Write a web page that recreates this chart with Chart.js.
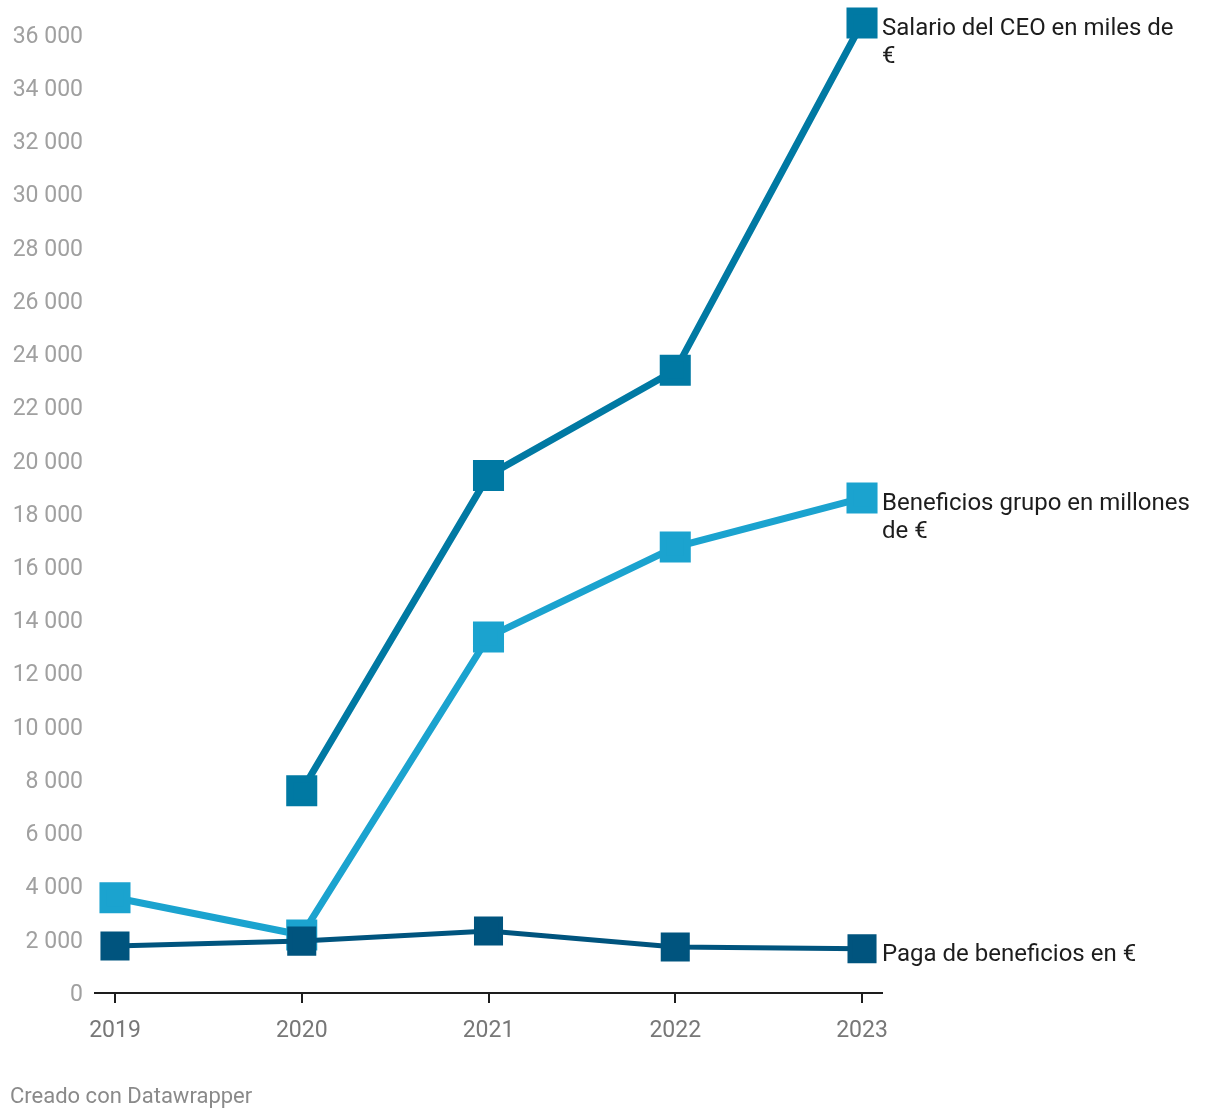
<!DOCTYPE html>
<html>
<head>
<meta charset="utf-8">
<script src="https://cdn.jsdelivr.net/npm/chart.js@4"></script>
<style>
  body { margin: 0; background: #fff; }
  #wrap { position: relative; width: 1220px; height: 1120px; }
  #credit { position: absolute; left: 10px; top: 1083px; font: 22px Roboto, sans-serif; color: #8a8a8a; }
</style>
</head>
<body>
<div id="wrap">
  <canvas id="chart"></canvas>
  <div id="credit">Creado con Datawrapper</div>
</div>
<script>
let years = [2019, 2020, 2021, 2022, 2023];
let ceoSalary = [null, 7600, 19450, 23400, 36450];
let groupProfit = [3580, 2180, 13380, 16760, 18600];
let profitPay = [1770, 1950, 2330, 1730, 1660];
let yTicks = [0, 2000, 4000, 6000, 8000, 10000, 12000, 14000, 16000, 18000, 20000, 22000, 24000, 26000, 28000, 30000, 32000, 34000, 36000];

let seriesNames = [
  ['Salario del CEO en miles de', '€'],
  ['Beneficios grupo en millones', 'de €'],
  ['Paga de beneficios en €']
];

let fmt = v => String(v).replace(/\B(?=(\d{3})+(?!\d))/g, ' ');

// end-of-line labels next to the last point
let endLabels = {
  id: 'endLabels',
  afterDatasetsDraw(chart) {
    let ctx = chart.ctx;
    ctx.save();
    ctx.font = '24px Roboto';
    ctx.fillStyle = '#1d1d1d';
    ctx.textBaseline = 'middle';
    chart.data.datasets.forEach((ds, i) => {
      let meta = chart.getDatasetMeta(i);
      let pt = meta.data[meta.data.length - 1];
      ds.endLabel.forEach((line, j) => {
        ctx.fillText(line, pt.x + 20, pt.y + 6 + j * 28);
      });
    });
    ctx.restore();
  }
};

let donationChart = document.getElementById('chart');

let myChart = new Chart(donationChart, {
  type: 'line',
  data: {
    labels: years,
    datasets: [
      {
        label: 'Salario del CEO',
        data: ceoSalary,
        endLabel: seriesNames[0],
        borderColor: '#0079a3',
        backgroundColor: '#0079a3',
        borderWidth: 7,
        order: 2
      },
      {
        label: 'Beneficios grupo',
        data: groupProfit,
        endLabel: seriesNames[1],
        borderColor: '#1ba3cf',
        backgroundColor: '#1ba3cf',
        borderWidth: 7,
        order: 3
      },
      {
        label: 'Paga de beneficios',
        data: profitPay,
        endLabel: seriesNames[2],
        borderColor: '#00547e',
        backgroundColor: '#00547e',
        borderWidth: 5,
        order: 1
      }
    ]
  },
  options: {
    responsive: true,
    maintainAspectRatio: false,
    animation: false,
    clip: false,
    elements: {
      line: { tension: 0 },
      point: { pointStyle: 'rect', radius: 17, borderWidth: 0, hoverRadius: 17 }
    },
    layout: { padding: { top: 35, right: 338, bottom: 67, left: 0 } },
    plugins: { legend: { display: false }, tooltip: { enabled: false } },
    scales: {
      x: {
        type: 'linear',
        min: 2018.893,
        max: 2023.107,
        afterBuildTicks: s => { s.ticks = years.map(v => ({ value: v })); },
        afterFit: s => { s.height = 60; },
        border: { display: true, color: '#1d1d1d', width: 2 },
        grid: { drawOnChartArea: false, drawTicks: true, tickLength: 10, color: '#1d1d1d', lineWidth: 2 },
        ticks: { color: '#777', font: { family: 'Roboto', size: 23 }, padding: 14, callback: v => String(v) }
      },
      y: {
        min: 0,
        max: 36000,
        afterBuildTicks: s => { s.ticks = yTicks.map(v => ({ value: v })); },
        afterFit: s => { s.width = 95; },
        border: { display: false },
        grid: { display: false, drawTicks: false },
        ticks: { color: '#a0a0a0', font: { family: 'Roboto', size: 23 }, padding: 12, labelOffset: 2, callback: v => fmt(v) }
      }
    }
  },
  plugins: [endLabels]
});
</script>
</body>
</html>
